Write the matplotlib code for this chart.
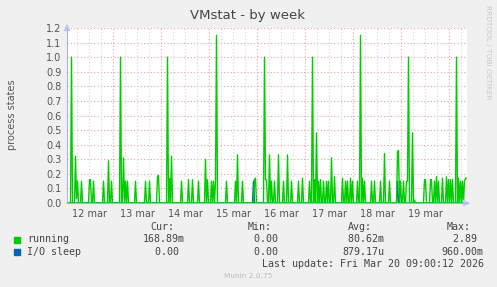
import numpy as np
import matplotlib
matplotlib.use("Agg")
import matplotlib.pyplot as plt

# Half-hour samples, hours counted from 12 mar 00:00; graph runs 12 mar 01:00 .. 20 mar 09:00
start_hour = 1.0
step_hours = 0.5
end_hour = 201.0

running = [
    0, 0, 0, 0, 1.0, 0, 0, 0, 0.32, 0.03, 0.15, 0, 0, 0, 0.15, 0, 0, 0, 0, 0,
    0, 0, 0.16, 0.16, 0, 0, 0.15, 0, 0, 0, 0, 0, 0, 0, 0, 0, 0.15, 0, 0, 0,
    0, 0.29, 0, 0, 0.15, 0, 0, 0, 0, 0, 0, 0, 0, 1.0, 0, 0.03, 0.31, 0, 0.15, 0,
    0.15, 0, 0, 0, 0, 0, 0, 0, 0.15, 0, 0, 0, 0, 0, 0, 0, 0, 0, 0.15, 0,
    0, 0, 0.15, 0, 0, 0, 0, 0, 0, 0, 0.18, 0.19, 0, 0, 0, 0, 0, 0, 0, 0,
    1.0, 0, 0.17, 0, 0.32, 0, 0, 0, 0, 0, 0, 0, 0, 0, 0.15, 0, 0, 0, 0, 0,
    0, 0.16, 0, 0, 0, 0.16, 0, 0, 0, 0, 0, 0.15, 0, 0, 0, 0, 0, 0, 0.30, 0,
    0.16, 0, 0, 0, 0.15, 0, 0.15, 0, 0.15, 1.15, 0, 0, 0, 0, 0, 0, 0, 0, 0, 0.15,
    0, 0, 0, 0, 0, 0, 0, 0, 0.15, 0, 0.33, 0, 0, 0, 0, 0.15, 0, 0, 0, 0,
    0, 0, 0, 0, 0, 0, 0, 0.16, 0.17, 0, 0, 0, 0, 0, 0, 0, 0, 1.0, 0.16, 0.16,
    0, 0, 0.33, 0, 0.15, 0, 0, 0.15, 0, 0, 0, 0.33, 0, 0, 0, 0, 0.15, 0, 0, 0,
    0.33, 0, 0, 0, 0.15, 0, 0, 0, 0, 0, 0, 0.15, 0, 0, 0, 0.17, 0, 0, 0, 0,
    0, 0, 0.15, 0, 0, 1.0, 0, 0.16, 0, 0.48, 0, 0.15, 0, 0.16, 0, 0, 0.15, 0, 0, 0.15,
    0, 0.15, 0, 0, 0.31, 0, 0, 0.18, 0, 0, 0, 0, 0, 0, 0, 0.17, 0, 0, 0.15, 0,
    0.15, 0, 0, 0.17, 0, 0.15, 0, 0, 0, 0, 0.15, 0, 0, 1.15, 0, 0.17, 0, 0.15, 0, 0,
    0, 0, 0, 0, 0.15, 0, 0, 0.15, 0, 0, 0, 0, 0, 0.15, 0, 0, 0, 0.34, 0, 0,
    0, 0, 0.15, 0, 0, 0, 0, 0, 0, 0, 0.35, 0.36, 0, 0.15, 0, 0, 0.15, 0, 0, 0.15,
    0.15, 1.0, 0, 0, 0, 0.48, 0, 0.02, 0, 0, 0, 0, 0, 0, 0, 0, 0, 0.16, 0.16, 0,
    0, 0, 0, 0.16, 0.16, 0, 0, 0.15, 0, 0.18, 0, 0.15, 0, 0, 0, 0.17, 0, 0, 0, 0.18,
    0, 0.16, 0, 0.16, 0, 0.16, 0, 0, 0, 1.0, 0, 0.17, 0, 0.15, 0, 0.15, 0, 0.15, 0.17, 0.17,
]
io_sleep = [0.0] * 186 + [0.15] + [0.0] * 143 + [0.15] + [0.0] * 69

day_labels = ["12 mar", "13 mar", "14 mar", "15 mar", "16 mar", "17 mar", "18 mar", "19 mar"]

legend_names = ["running", "I/O sleep"]
legend_colors = ["#00CC00", "#0066B3"]
cur_vals = ["168.89m", "  0.00 "]
min_vals = ["  0.00 ", "  0.00 "]
avg_vals = [" 80.62m", "879.17u"]
max_vals = ["  2.89 ", "960.00m"]

times = start_hour + step_hours * (np.arange(len(running)) + 0.5)

fig = plt.figure(figsize=(4.97, 2.87), dpi=100, facecolor="#F0F0F0")
ax = fig.add_axes([67 / 497, 1 - 203 / 287, 400 / 497, 175 / 287], facecolor="white")

# blue under green so the zero baseline stays green, spikes still show
ax.plot(times, io_sleep, color="#0066B3", lw=1.0, zorder=2)
ax.plot(times, running, color="#00CC00", lw=1.0, zorder=3)

ax.set_xlim(start_hour, end_hour)
ax.set_ylim(0, 1.2)

# grid: red dotted at day boundaries and every 0.1, grey dotted every 6h
yt = np.round(np.arange(0, 1.21, 0.1), 1)
ax.set_yticks(yt)
ax.set_yticklabels(["%.1f" % v for v in yt])
for v in yt[1:]:
    ax.axhline(v, color="#E9A0A0", lw=0.8, ls=(0, (1, 2)), zorder=1)
for h in range(6, 204, 6):
    if h % 24 == 0:
        ax.axvline(h, color="#E9A0A0", lw=0.8, ls=(0, (1, 2)), zorder=1)
    else:
        ax.axvline(h, color="#D4D4D4", lw=0.8, ls=(0, (1, 2)), zorder=1)

ax.set_xticks([12 + 24 * k for k in range(len(day_labels))])
ax.set_xticklabels(day_labels)
ax.tick_params(length=0, labelsize=7, colors="#555555", pad=4)

for s in ["top", "right"]:
    ax.spines[s].set_visible(False)
for s in ["left", "bottom"]:
    ax.spines[s].set_color("#AAB4E0")
    ax.spines[s].set_zorder(5)

# axis arrows
ax.annotate("", xy=(1.015, 0), xytext=(0.99, 0), xycoords="axes fraction",
            arrowprops=dict(arrowstyle="-|>", color="#C0C8F0", lw=0.8), annotation_clip=False)
ax.annotate("", xy=(0, 1.04), xytext=(0, 0.99), xycoords="axes fraction",
            arrowprops=dict(arrowstyle="-|>", color="#C0C8F0", lw=0.8), annotation_clip=False)

fig.text(248 / 497, 1 - 15 / 287, "VMstat - by week", ha="center", va="center",
         fontsize=9.5, color="#444444")
fig.text(12 / 497, 1 - 115 / 287, "process states", rotation=90, ha="center", va="center",
         fontsize=7, color="#555555")
fig.text(488 / 497, 1 - 52 / 287, "RRDTOOL / TOBI OETIKER", rotation=270, ha="center",
         va="center", fontsize=5.3, color="#C8C8C8")

mono = "DejaVu Sans Mono"
fs = 7.2
def put(x, y, s, **kw):
    fig.text(x / 497, 1 - y / 287, s, family=mono, fontsize=fs, color="#444444",
             va="center", ha="left", **kw)

put(150, 227, "Cur:")
put(248, 227, "Min:")
put(348, 227, "Avg:")
put(447, 227, "Max:")
rows_y = [239.5, 251.7]
for k in range(len(legend_names)):
    y = rows_y[k]
    fig.patches.append(plt.Rectangle((14 / 497, 1 - (y + 3) / 287), 6 / 497, 6 / 287,
                                     transform=fig.transFigure, color=legend_colors[k]))
    put(27, y, legend_names[k])
    put(143, y, cur_vals[k])
    put(242, y, min_vals[k])
    put(342, y, avg_vals[k])
    put(441, y, max_vals[k])
put(262, 263.7, "Last update: Fri Mar 20 09:00:12 2026")
fig.text(248 / 497, 1 - 276 / 287, "Munin 2.0.75", ha="center", va="center",
         fontsize=5.3, color="#BBBBBB")

fig.savefig("out.png", dpi=100, facecolor=fig.get_facecolor())
